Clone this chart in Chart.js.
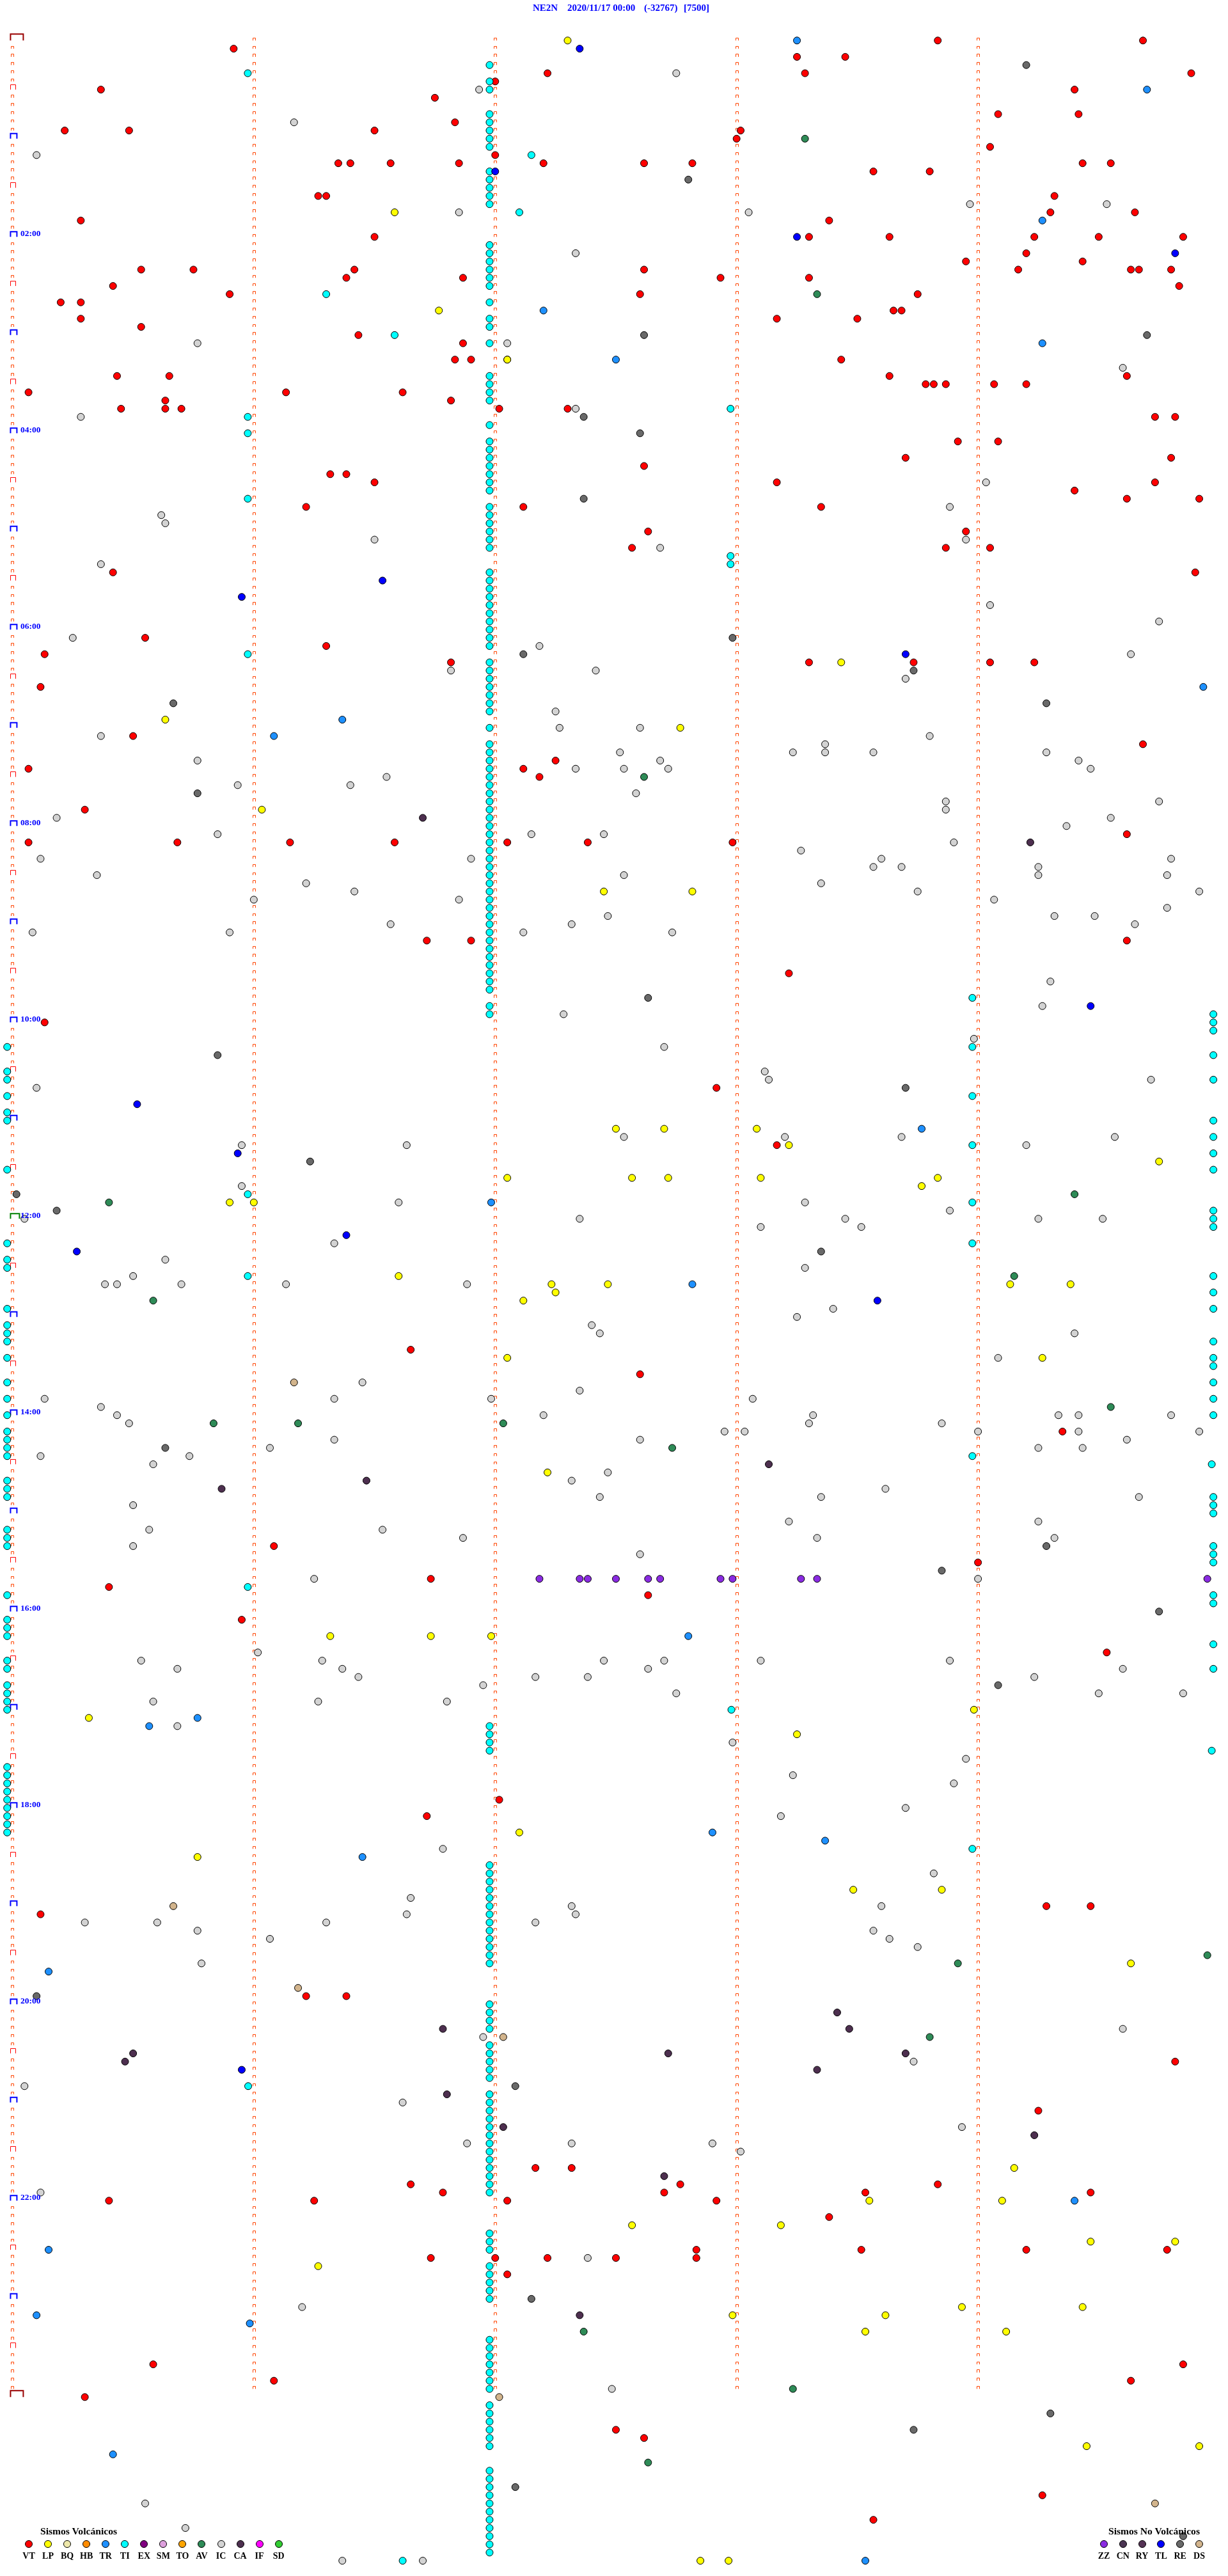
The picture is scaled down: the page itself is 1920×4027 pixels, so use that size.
<!DOCTYPE html>
<html>
<head>
<meta charset="utf-8">
<title>NE2N 2020/11/17</title>
<script src="https://cdn.jsdelivr.net/npm/chart.js@4.4.1/dist/chart.umd.min.js"></script>
<style>
    body { margin: 0; background: #fff; overflow: hidden; }
    #wrap { position: relative; width: 1920px; height: 4027px; }
    #heli { position: absolute; left: 0; top: 0; }
    .txt { position: absolute; font-family: "Liberation Serif", "Times New Roman", serif; font-weight: bold; white-space: nowrap; line-height: 1; }
    .blue { color: #0000ff; }
    .dot { position: absolute; width: 10px; height: 10px; border: 1px solid #000; border-radius: 50%; }
</style>
</head>
<body>
<div id="wrap">
    <canvas id="heli" width="1920" height="4027"></canvas>
</div>
<script>
// Helicorder event plot: one row = 5 minutes, x = seconds inside the row
// every event is [seconds, row]

const ROWS_PER_DAY = 288;
const minuteTicks = [60, 120, 180, 240];
const timeLabels = ['02:00', '04:00', '06:00', '08:00', '10:00', '12:00', '14:00', '16:00', '18:00', '20:00', '22:00'];

const titleParts = ['NE2N', '2020/11/17 00:00', '(-32767)', '[7500]'];

const volcanicTypes = ['VT', 'LP', 'BQ', 'HB', 'TR', 'TI', 'EX', 'SM', 'TO', 'AV', 'IC', 'CA', 'IF', 'SD'];
const volcanicColors = ['#ff0000', '#ffff00', '#eee8aa', '#ff8c00', '#1e90ff', '#00ffff', '#800080', '#dda0dd', '#ffa500', '#2e8b57', '#d3d3d3', '#4d2f4f', '#ff00ff', '#32cd32'];
const nonVolcanicTypes = ['ZZ', 'CN', 'RY', 'TL', 'RE', 'DS'];
const nonVolcanicColors = ['#8a2be2', '#4b3552', '#553355', '#0000ff', '#696969', '#d2b48c'];

const VT = [[230,0],[281,0],[55,1],[195,2],[207,2],[133,4],[197,4],[293,4],[120,5],[22,6],[264,6],[105,7],[245,9],[265,9],[110,10],
    [13,11],[29,11],[90,11],[181,11],[180,12],[243,13],[120,14],[81,15],[84,15],[94,15],[111,15],[132,15],[157,15],[169,15],[266,15],[273,15],
    [214,16],[228,16],[76,19],[78,19],[259,19],[258,21],[279,21],[17,22],[203,22],[90,24],[198,24],[218,24],[254,24],[270,24],[291,24],
    [252,26],[237,27],[266,27],[32,28],[45,28],[85,28],[157,28],[250,28],[278,28],[280,28],[288,28],[83,29],[112,29],[176,29],[198,29],
    [25,30],[290,30],[54,31],[156,31],[225,31],[12,32],[17,32],[219,33],[221,33],[17,34],[190,34],[210,34],[32,35],[86,36],[112,37],
    [110,39],[114,39],[123,39],[206,39],[26,41],[39,41],[218,41],[277,41],[227,42],[229,42],[232,42],[244,42],[252,42],[4,43],[68,43],[97,43],
    [38,44],[109,44],[27,45],[38,45],[42,45],[121,45],[138,45],[284,46],[289,46],
    [235,49],[245,49],[222,51],[288,51],[157,52],[79,53],[83,53],[90,54],[190,54],[284,54],[264,55],[277,56],[295,56],[73,57],[127,57],[201,57],
    [158,60],[237,60],[154,62],[232,62],[243,62],[25,65],[294,65],[33,73],[78,74],[8,75],[109,76],[198,76],[224,76],[243,76],[254,76],[7,79],
    [30,85],[281,86],[135,88],[4,89],[127,89],[131,90],[18,94],[277,97],[4,98],[41,98],[69,98],[95,98],[123,98],[143,98],[179,98],
    [103,110],[114,110],[277,110],[193,114],[8,120],[175,128],[190,135],
    [99,160],[156,163],[261,170],[65,184],[240,186],[104,188],[24,189],[158,190],[57,193],[272,197],
    [121,215],[103,217],[257,228],[268,228],[7,229],[73,239],[83,239],[289,247],[255,253],
    [130,260],[139,260],[99,262],[166,262],[230,262],[107,263],[162,263],[212,263],[268,263],[24,264],[75,264],[123,264],[175,264],[203,266],
    [170,270],[211,270],[252,270],[287,270],[104,271],[120,271],[133,271],[150,271],[170,271],[123,273],[35,284],[291,284],[65,286],[278,286],
    [18,288],[150,292],[157,293],[256,300],[214,303]];

const LP = [[138,0],[95,21],[106,33],[123,39],[206,76],[38,83],[166,84],[62,94],[147,104],[169,104],[150,133],[162,133],[185,133],[193,135],
    [285,137],[123,139],[154,139],[163,139],[186,139],[230,139],[226,140],[54,142],[60,142],[96,151],[134,152],[148,152],[248,152],[263,152],
    [135,153],[127,154],[123,161],[256,161],[133,175],[79,195],[104,195],[119,195],[239,204],[19,205],[195,207],[126,219],[46,222],[209,226],
    [231,226],[278,235],[249,260],[213,264],[246,264],[154,267],[191,267],[268,269],[289,269],[76,272],[236,277],[266,277],[179,278],[217,278],
    [212,280],[247,280],[267,294],[295,294],[171,308],[178,308]];

const TR = [[195,0],[282,6],[256,22],[132,33],[256,37],[150,39],[296,79],[82,83],[65,85],[226,133],[119,142],[169,152],[168,195],[46,205],
    [34,206],[174,219],[202,220],[87,222],[9,236],[264,264],[9,270],[6,278],[59,279],[25,295],[212,308]];

const TL = [[141,1],[120,16],[195,24],[289,26],[92,66],[57,68],[222,75],[268,118],[31,130],[56,136],[83,146],[16,148],[215,154],[57,248]];

const AV = [[197,12],[200,31],[157,90],[264,141],[24,142],[249,151],[35,154],[273,167],[50,169],[71,169],[122,169],[164,172],[297,234],
    [235,235],[228,244],[142,280],[194,287],[158,296]];

const RE = [[252,3],[168,17],[157,36],[282,36],[142,46],[156,48],[142,56],[179,73],[127,75],[224,77],[40,81],[257,81],[46,92],[158,117],
    [51,124],[222,128],[74,137],[1,141],[11,143],[201,148],[38,172],[257,184],[231,187],[285,192],[245,201],[6,239],[125,250],[129,276],
    [258,290],[224,292],[125,299],[291,305]];

const CA = [[102,95],[253,98],[188,174],[88,176],[52,177],[205,241],[107,243],[208,243],[30,246],[163,246],[222,246],[28,247],[200,248],
    [108,251],[122,255],[254,256],[162,261],[141,278]];

const ZZ = [[131,188],[141,188],[143,188],[150,188],[158,188],[161,188],[176,188],[179,188],[196,188],[200,188],[297,188]];

const DS = [[70,164],[40,228],[71,238],[122,244],[121,288],[284,301]];

const TI = [[58.5,4],[118.6,3],[118.6,5],[118.6,6],[118.6,9],[118.6,10],[118.6,11],[118.6,12],[118.6,13],[129,14],[118.6,16],[118.6,17],
    [118.6,18],[118.6,19],[118.6,20],[126,21],[118.6,25],[118.6,26],[118.6,27],[118.6,28],[118.6,29],[118.6,30],[78,31],[118.6,32],[118.6,34],
    [118.6,35],[95,36],[118.6,37],[118.6,41],[118.6,42],[118.6,43],[118.6,44],[178.5,45],[58.5,46],[118.6,47],[58.5,48],
    [118.6,49],[118.6,50],[118.6,51],[118.6,52],[118.6,53],[118.6,54],[118.6,55],[58.5,56],[118.6,57],[118.6,58],[118.6,59],[118.6,60],
    [118.6,61],[118.6,62],[178.5,63],[178.5,64],[118.6,65],[118.6,66],[118.6,67],[118.6,68],[118.6,69],[118.6,70],[118.6,71],[118.6,72],
    [118.6,73],[118.6,74],[58.5,75],[118.6,76],[118.6,77],[118.6,78],[118.6,79],[118.6,80],[118.6,81],[118.6,82],[118.6,84],[118.6,86],
    [118.6,87],[118.6,88],[118.6,89],[118.6,90],[118.6,91],[118.6,92],[118.6,93],[118.6,94],[118.6,95],[118.6,96],[118.6,97],[118.6,98],
    [118.6,99],[118.6,100],[118.6,101],[118.6,102],[118.6,103],[118.6,104],[118.6,105],[118.6,106],[118.6,107],[118.6,108],[118.6,109],
    [118.6,110],[118.6,111],[118.6,112],[118.6,113],[118.6,114],[118.6,115],[118.6,116],[238.6,117],[118.6,118],[118.6,119],[298.5,119],
    [298.5,120],[298.5,121],[-1.3,123],[238.6,123],[298.5,124],[-1.3,126],[-1.3,127],[298.5,127],[-1.3,129],[238.6,129],[-1.3,131],[-1.3,132],
    [298.5,132],[298.5,134],[238.6,135],[298.5,136],[-1.3,138],[298.5,138],[58.5,141],[238.6,142],[298.5,143],[298.5,144],[298.5,145],
    [-1.3,147],[238.6,147],[-1.3,149],[-1.3,150],[58.5,151],[298.5,151],
    [298.5,153],[-1.3,155],[298.5,155],[-1.3,157],[-1.3,158],[-1.3,159],[298.5,159],[-1.3,161],[298.5,161],[298.5,162],[-1.3,164],[298.5,164],
    [-1.3,166],[298.5,166],[-1.3,168],[298.5,168],[-1.3,170],[-1.3,171],[-1.3,172],[-1.3,173],[238.6,173],[298.1,174],[-1.3,176],[-1.3,177],
    [-1.3,178],[298.5,178],[298.5,179],[298.5,180],[-1.3,182],[-1.3,183],[-1.3,184],[298.5,184],[298.5,185],[298.5,186],[58.5,189],[-1.3,190],
    [298.5,190],[298.5,191],[-1.3,193],[-1.3,194],[-1.3,195],[298.5,196],[-1.3,198],[-1.3,199],[298.5,199],[-1.3,201],[-1.3,202],[-1.3,203],
    [-1.3,204],[178.7,204],
    [118.6,206],[118.6,207],[118.6,208],[118.6,209],[298.1,209],[-1.3,211],[-1.3,212],[-1.3,213],[-1.3,214],[-1.3,215],[-1.3,216],[-1.3,217],
    [-1.3,218],[-1.3,219],[238.6,221],[118.6,223],[118.6,224],[118.6,225],[118.6,226],[118.6,227],[118.6,228],[118.6,229],[118.6,230],
    [118.6,231],[118.6,232],[118.6,233],[118.6,234],[118.6,235],[118.6,240],[118.6,241],[118.6,242],[118.6,243],[118.6,245],[118.6,246],
    [118.6,247],[118.6,248],[118.6,249],[58.6,250],[118.6,251],[118.6,252],[118.6,253],[118.6,254],[118.6,255],[118.6,256],[118.6,257],
    [118.6,258],[118.6,259],[118.6,260],[118.6,261],[118.6,262],[118.6,263],[118.6,268],[118.6,269],[118.6,270],[118.6,272],[118.6,273],
    [118.6,274],[118.6,275],[118.6,276],[118.6,281],[118.6,282],[118.6,283],[118.6,284],[118.6,285],[118.6,286],[118.6,287],[118.6,289],
    [118.6,290],[118.6,291],[118.6,292],[118.6,293],[118.6,294],[118.6,297],[118.6,298],[118.6,299],[118.6,300],[118.6,301],[118.6,302],
    [118.6,303],[118.6,304],[118.6,305],[118.6,306],[118.6,307],[97,308]];

const IC = [[165,4],[116,6],[70,10],[6,14],[238,20],[272,20],[111,21],[183,21],[140,26],[46,37],[123,37],[276,40],[140,45],[17,46],
    [242,54],[233,57],[37,58],[38,59],[90,61],[237,61],[161,62],[22,64],[243,69],[285,71],[15,73],[131,74],[278,75],[109,77],[145,77],
    [222,78],[135,82],[136,84],[156,84],[22,85],[228,85],[202,86],[151,87],[194,87],[202,87],[214,87],[257,87],[46,88],[161,88],[265,88],
    [140,89],[152,89],[163,89],[268,89],[93,90],[56,91],[84,91],[155,92],[232,93],[285,93],[232,94],[11,95],[273,95],[262,96],[51,97],
    [129,97],[147,97],[234,98],[196,99],[7,100],[114,100],[216,100],[288,100],
    [214,101],[221,101],[255,101],[21,102],[152,102],[255,102],[287,102],[73,103],[201,103],[85,104],[225,104],[295,104],[60,105],[111,105],
    [244,105],[287,106],[148,107],[259,107],[269,107],[94,108],[139,108],[279,108],[5,109],[54,109],[127,109],[164,109],[258,115],[256,118],
    [137,119],[239,122],[162,123],[187,126],[188,127],[283,127],[6,128],[152,134],[192,134],[221,134],[274,134],[57,135],[98,135],[252,135],
    [57,140],[96,142],[197,142],[233,143],[3,144],[141,144],[207,144],[255,144],[271,144],[186,145],[211,145],[80,147],[38,149],[197,150],
    [30,151],[23,152],[26,152],[42,152],[68,152],[113,152],
    [204,155],[195,156],[144,157],[146,158],[264,158],[245,161],[87,164],[141,165],[8,166],[80,166],[119,166],[184,166],[22,167],[26,168],
    [132,168],[199,168],[260,168],[265,168],[288,168],[29,169],[198,169],[231,169],[177,170],[182,170],[240,170],[265,170],[295,170],[80,171],
    [156,171],[277,171],[64,172],[255,172],[266,172],[7,173],[44,173],[35,174],[148,175],[139,176],[217,177],[146,178],[201,178],[280,178],
    [30,179],[193,181],[255,181],[34,182],[92,182],[112,183],[200,183],[259,183],[30,184],[156,185],[75,188],[240,188],[61,197],[32,198],
    [77,198],[147,198],[162,198],[186,198],[233,198],[41,199],[82,199],[158,199],[276,199],[86,200],[130,200],[143,200],[254,200],[117,201],
    [165,202],[270,202],[291,202],[35,203],[76,203],[108,203],
    [41,206],[179,208],[237,210],[194,212],[234,213],[222,216],[191,217],[107,221],[229,224],[99,227],[139,228],[216,228],[98,229],[140,229],
    [18,230],[36,230],[78,230],[130,230],[46,231],[214,231],[64,232],[218,232],[225,233],[47,235],[276,243],[117,244],[224,247],[3,250],
    [97,252],[236,255],[113,257],[139,257],[174,257],
    [181,258],[7,263],[143,271],[72,277],[149,287],[33,301],[43,304],[82,308],[102,308]];

// series in drawing order, the first one ends up on top
const series = [
    { label: 'TL', data: TL, color: nonVolcanicColors[3] },
    { label: 'TI', data: TI, color: volcanicColors[5] },
    { label: 'LP', data: LP, color: volcanicColors[1] },
    { label: 'VT', data: VT, color: volcanicColors[0] },
    { label: 'TR', data: TR, color: volcanicColors[4] },
    { label: 'AV', data: AV, color: volcanicColors[9] },
    { label: 'RE', data: RE, color: nonVolcanicColors[4] },
    { label: 'CA', data: CA, color: volcanicColors[11] },
    { label: 'ZZ', data: ZZ, color: nonVolcanicColors[0] },
    { label: 'DS', data: DS, color: nonVolcanicColors[5] },
    { label: 'IC', data: IC, color: volcanicColors[10] }
];

// pixel scale of the original plot
const PX_PER_SEC = 380 / 60;
const PX_PER_ROW = 12.833;
const X0 = 13, Y0 = 57;

function bracket(ctx, left, bottom, w, h, color, lw) {
    ctx.strokeStyle = color;
    ctx.lineWidth = lw;
    ctx.beginPath();
    ctx.moveTo(left, bottom);
    ctx.lineTo(left, bottom - h);
    ctx.lineTo(left + w, bottom - h);
    ctx.lineTo(left + w, bottom);
    ctx.stroke();
}

// row start marks and minute marks
const rowMarks = {
    id: 'rowMarks',
    beforeDatasetsDraw(chart) {
        const { ctx, scales: { x, y } } = chart;
        const x0 = x.getPixelForValue(0);
        ctx.save();
        for (let r = 0; r <= ROWS_PER_DAY; r++) {
            const py = y.getPixelForValue(r);
            const small = Math.round(py - 4.5) + 0.5;
            if (r === 0 || r === ROWS_PER_DAY) {
                bracket(ctx, x0 - 3, py, 20, 10, '#990000', 2);
            } else if (r === ROWS_PER_DAY / 2) {
                bracket(ctx, x0 - 3, py, 14, 8, '#008000', 2);
            } else if (r % 12 === 0) {
                bracket(ctx, x0 - 3, py, 10, 8, '#0000ff', 2);
            } else if (r % 6 === 0) {
                bracket(ctx, Math.round(x0 - 3) + 0.5, py, 8, py - (Math.round(py - 8.5) + 0.5), '#ff0000', 1);
            } else {
                bracket(ctx, Math.round(x0 - 2) + 0.5, py, 4, py - small, '#ff4500', 1);
            }
            if (r < ROWS_PER_DAY) {
                minuteTicks.forEach(s => {
                    const px = x.getPixelForValue(s);
                    bracket(ctx, Math.round(px - 2) + 0.5, py, 4, py - small, '#ff4500', 1);
                });
            }
        }
        ctx.restore();
    }
};

const canvas = document.getElementById('heli');
const chart = new Chart(canvas.getContext('2d'), {
    type: 'scatter',
    data: {
        datasets: series.map(s => ({
            label: s.label,
            data: s.data.map(p => ({ x: p[0], y: p[1] })),
            backgroundColor: s.color,
            borderColor: '#000000',
            borderWidth: 1,
            pointRadius: 5.5,
            pointHoverRadius: 5.5,
            clip: false
        }))
    },
    options: {
        responsive: false,
        maintainAspectRatio: false,
        devicePixelRatio: 1,
        animation: false,
        events: [],
        layout: { padding: 0 },
        scales: {
            x: { type: 'linear', display: false, min: -X0 / PX_PER_SEC, max: (1920 - X0) / PX_PER_SEC },
            y: { type: 'linear', display: false, reverse: true, min: -Y0 / PX_PER_ROW, max: (4027 - Y0) / PX_PER_ROW }
        },
        plugins: {
            legend: { display: false },
            tooltip: { enabled: false }
        }
    },
    plugins: [rowMarks]
});

// text and legend as html on top of the canvas
const wrap = document.getElementById('wrap');
function addText(text, left, top, size, cls, extra) {
    const d = document.createElement('div');
    d.className = 'txt ' + (cls || '');
    d.textContent = text;
    d.style.left = left + 'px';
    d.style.top = top + 'px';
    d.style.fontSize = size + 'px';
    if (extra) Object.assign(d.style, extra);
    wrap.appendChild(d);
    return d;
}
function addDot(cx, cy, color) {
    const d = document.createElement('div');
    d.className = 'dot';
    d.style.left = (cx - 6) + 'px';
    d.style.top = (cy - 6) + 'px';
    d.style.background = color;
    wrap.appendChild(d);
}

const titleLeft = [833, 887, 1007, 1069];
titleParts.forEach((t, i) => addText(t, titleLeft[i], 5, 15, 'blue'));

const ys = chart.scales.y;
timeLabels.forEach(t => {
    const row = parseInt(t, 10) * 12;
    const cy = ys.getPixelForValue(row) - 5;
    addText(t, 32, cy - 7, 13.5, 'blue');
});

const legY = 3977;
addText('Sismos Volcánicos', 63, 3949, 15.6, '', { color: '#000' });
volcanicTypes.forEach((t, i) => {
    const cx = 45 + i * 30.05;
    addDot(cx, legY, volcanicColors[i]);
    addText(t, cx - 20, 3989, 14, '', { width: '40px', textAlign: 'center', color: '#000' });
});
addText('Sismos No Volcánicos', 1733, 3949, 15.6, '', { color: '#000' });
nonVolcanicTypes.forEach((t, i) => {
    const cx = 1726 + i * 29.8;
    addDot(cx, legY, nonVolcanicColors[i]);
    addText(t, cx - 20, 3989, 14, '', { width: '40px', textAlign: 'center', color: '#000' });
});
</script>
</body>
</html>
